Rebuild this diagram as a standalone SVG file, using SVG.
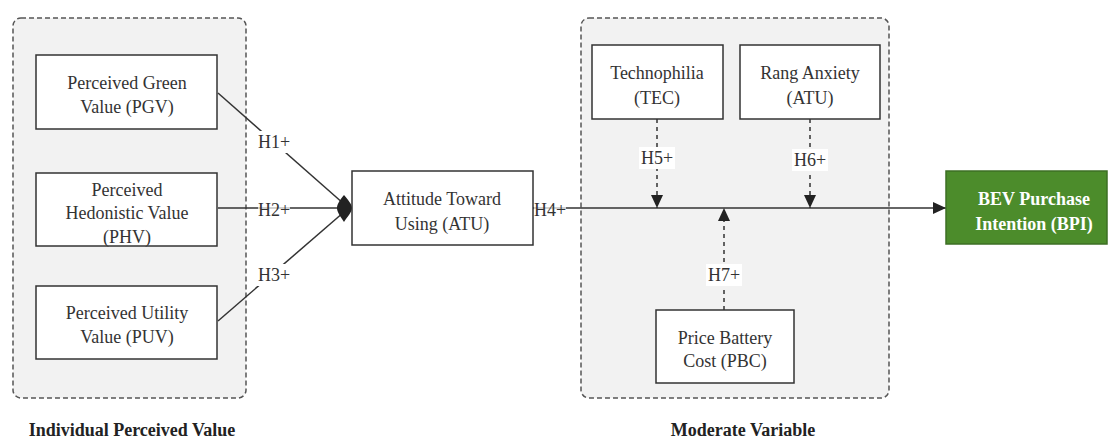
<svg xmlns="http://www.w3.org/2000/svg" width="1116" height="438" viewBox="0 0 1116 438">
<defs>
<style>
.grp{fill:#f2f2f2;stroke:#555;stroke-width:1.5;stroke-dasharray:5 3}
.box{fill:#fff;stroke:#333;stroke-width:1.5}
.t{font-family:"Liberation Serif","Times New Roman",serif;font-size:18px;fill:#333;text-anchor:middle}
.tb{font-family:"Liberation Serif","Times New Roman",serif;font-size:18px;font-weight:bold;fill:#222;text-anchor:middle}
.ln{fill:none;stroke:#333;stroke-width:1.5}
.dl{fill:none;stroke:#333;stroke-width:1.5;stroke-dasharray:4 4}
.lb{fill:#fff}
</style>
<marker id="arr" markerWidth="14" markerHeight="12" refX="13" refY="6" orient="auto" markerUnits="userSpaceOnUse">
<path d="M0,0 L13,6 L0,12 Z" fill="#222"/>
</marker>
</defs>

<g id="group-individual">
<rect class="grp" x="13" y="18" width="233" height="380" rx="8"/>
<text class="tb" x="132" y="436">Individual Perceived Value</text>
</g>
<g id="group-moderate">
<rect class="grp" x="581" y="18" width="308" height="380" rx="8"/>
<text class="tb" x="743" y="436">Moderate Variable</text>
</g>

<g id="connectors">
<line class="ln" x1="218" y1="93" x2="344" y2="204"/>
<line class="ln" x1="218" y1="208" x2="344" y2="208"/>
<line class="ln" x1="218" y1="321" x2="344" y2="212"/>
<path d="M344,195 C340,200 337,204 337,208 C337,212 340,216 344,222 C348,216 352,212 352,208 C352,204 348,200 344,195 Z" fill="#222"/>
<line class="ln" x1="533" y1="208" x2="946" y2="208" marker-end="url(#arr)"/>
<line class="dl" x1="657" y1="119" x2="657" y2="208" marker-end="url(#arr)"/>
<line class="dl" x1="810" y1="119" x2="810" y2="208" marker-end="url(#arr)"/>
<line class="dl" x1="724" y1="310" x2="724" y2="208" marker-end="url(#arr)"/>
<rect class="lb" x="256" y="131" width="36" height="22"/>
<text class="t" x="274" y="148">H1+</text>
<rect class="lb" x="258" y="203" width="32" height="14" fill-opacity="0.7"/>
<text class="t" x="274" y="216">H2+</text>
<rect class="lb" x="256" y="264" width="36" height="22"/>
<text class="t" x="274" y="281">H3+</text>
<rect class="lb" x="534" y="203" width="32" height="14" fill-opacity="0.7"/>
<text class="t" x="550" y="216">H4+</text>
<rect class="lb" x="639" y="147" width="36" height="22"/>
<text class="t" x="657" y="164">H5+</text>
<rect class="lb" x="792" y="149" width="36" height="22"/>
<text class="t" x="810" y="166">H6+</text>
<rect class="lb" x="706" y="264" width="36" height="22"/>
<text class="t" x="724" y="281">H7+</text>
</g>

<g id="node-pgv">
<rect class="box" x="36" y="55" width="181" height="74"/>
<text class="t" x="127" y="89">Perceived Green</text>
<text class="t" x="127" y="113">Value (PGV)</text>
</g>
<g id="node-phv">
<rect class="box" x="36" y="173" width="181" height="73"/>
<text class="t" x="127" y="196">Perceived</text>
<text class="t" x="127" y="219">Hedonistic Value</text>
<text class="t" x="127" y="243">(PHV)</text>
</g>
<g id="node-puv">
<rect class="box" x="36" y="286" width="181" height="73"/>
<text class="t" x="127" y="319">Perceived Utility</text>
<text class="t" x="127" y="343">Value (PUV)</text>
</g>
<g id="node-atu">
<rect class="box" x="352" y="171" width="181" height="74"/>
<text class="t" x="442" y="205">Attitude Toward</text>
<text class="t" x="442" y="230">Using (ATU)</text>
</g>
<g id="node-tec">
<rect class="box" x="592" y="45" width="131" height="74"/>
<text class="t" x="657" y="79">Technophilia</text>
<text class="t" x="657" y="104">(TEC)</text>
</g>
<g id="node-ra">
<rect class="box" x="740" y="45" width="140" height="74"/>
<text class="t" x="810" y="79">Rang Anxiety</text>
<text class="t" x="810" y="104">(ATU)</text>
</g>
<g id="node-pbc">
<rect class="box" x="656" y="310" width="138" height="73"/>
<text class="t" x="725" y="344">Price Battery</text>
<text class="t" x="725" y="367">Cost (PBC)</text>
</g>
<g id="node-bpi">
<rect x="946" y="171" width="161" height="73" fill="#4c8c2b" stroke="#3d6f24" stroke-width="1.5"/>
<text class="tb" x="1034" y="205" style="fill:#fff">BEV Purchase</text>
<text class="tb" x="1034" y="230" style="fill:#fff">Intention (BPI)</text>
</g>
</svg>
